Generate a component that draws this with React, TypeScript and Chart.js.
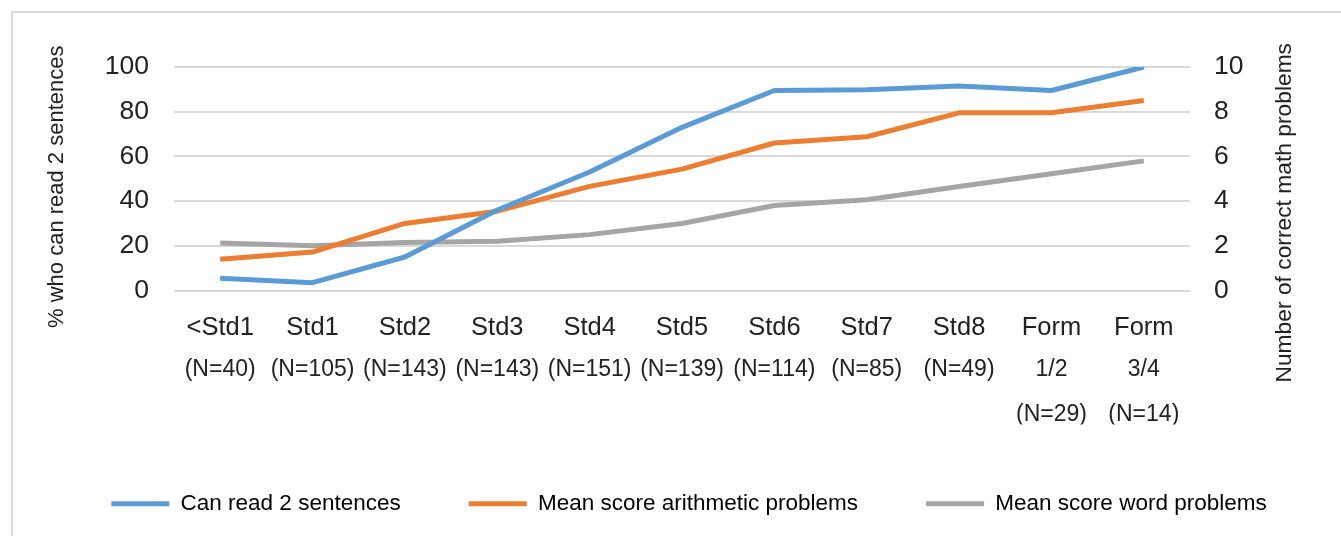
import React, { useEffect, useRef } from "react";
import { Chart, registerables } from "chart.js";

Chart.register(...registerables);

// Grade groups (first tick line) and sample sizes (lines below)
const categories = ["<Std1", "Std1", "Std2", "Std3", "Std4", "Std5", "Std6", "Std7", "Std8", "Form", "Form"];
const sampleLabels = [
  ["(N=40)"],
  ["(N=105)"],
  ["(N=143)"],
  ["(N=143)"],
  ["(N=151)"],
  ["(N=139)"],
  ["(N=114)"],
  ["(N=85)"],
  ["(N=49)"],
  ["1/2", "(N=29)"],
  ["3/4", "(N=14)"],
];

// % of pupils who can read 2 sentences (left axis)
const canRead = [5.5, 3.5, 15, 36, 53, 73, 89.5, 89.8, 91.5, 89.5, 100];
// Mean number of correct problems (right axis)
const arithmeticMean = [1.4, 1.72, 3.0, 3.55, 4.66, 5.43, 6.6, 6.88, 7.95, 7.95, 8.5];
const wordMean = [2.12, 2.0, 2.15, 2.2, 2.5, 3.0, 3.8, 4.06, 4.65, 5.22, 5.8];

const leftTitle = "% who can read 2 sentences";
const rightTitle = "Number of correct math problems";

const FONT = "'Liberation Sans', Arial, sans-serif";
const TEXT = "#222222";
const GRID = "#d9d9d9";

// Draws both axis titles rotated to read bottom-to-top
const axisTitlePlugin = {
  id: "axisTitles",
  afterDraw(chart: any) {
    const { ctx, chartArea, scales } = chart;
    const mid = (chartArea.top + chartArea.bottom) / 2;
    const draw = (text: string, x: number, y: number, size: number) => {
      ctx.save();
      ctx.translate(x, y);
      ctx.rotate(-Math.PI / 2);
      ctx.font = `${size}px ${FONT}`;
      ctx.fillStyle = TEXT;
      ctx.textAlign = "center";
      ctx.textBaseline = "middle";
      ctx.fillText(text, 0, 0);
      ctx.restore();
    };
    draw(leftTitle, scales.y.left + 20, mid + 8, 22);
    draw(rightTitle, scales.y1.right - 56, mid + 34, 22.8);
  },
};

export default function App() {
  const canvasRef = useRef<HTMLCanvasElement | null>(null);

  useEffect(() => {
    if (!canvasRef.current) return;
    const chart = new Chart(canvasRef.current, {
      type: "line",
      data: {
        labels: categories,
        datasets: [
          {
            label: "Can read 2 sentences",
            data: canRead,
            borderColor: "#5b9bd5",
            backgroundColor: "#5b9bd5",
            yAxisID: "y",
            xAxisID: "x",
          },
          {
            label: "Mean score arithmetic problems",
            data: arithmeticMean,
            borderColor: "#ed7d31",
            backgroundColor: "#ed7d31",
            yAxisID: "y1",
            xAxisID: "x",
          },
          {
            label: "Mean score word problems",
            data: wordMean,
            borderColor: "#a5a5a5",
            backgroundColor: "#a5a5a5",
            yAxisID: "y1",
            xAxisID: "x",
          },
        ],
      },
      options: {
        animation: false,
        responsive: false,
        devicePixelRatio: 1,
        layout: { padding: { top: 67, left: 37, right: 0, bottom: 11 } },
        elements: {
          line: { borderWidth: 5, tension: 0, borderJoinStyle: "round", borderCapStyle: "butt" },
          point: { radius: 0, hoverRadius: 0 },
        },
        plugins: {
          tooltip: { enabled: false },
          legend: {
            position: "bottom",
            labels: {
              boxWidth: 58,
              boxHeight: 5,
              padding: 68,
              color: TEXT,
              font: { family: FONT, size: 22.5 },
              generateLabels: (c: any) =>
                c.data.datasets.map((ds: any, i: number) => ({
                  text: ds.label,
                  fillStyle: ds.borderColor,
                  strokeStyle: ds.borderColor,
                  lineWidth: 0,
                  hidden: false,
                  datasetIndex: i,
                })),
            },
          },
        },
        scales: {
          x: {
            type: "category",
            position: "bottom",
            offset: true,
            grid: { display: false },
            border: { display: false },
            ticks: {
              color: TEXT,
              font: { family: FONT, size: 25.5, lineHeight: "30px" },
              padding: 14,
              maxRotation: 0,
              minRotation: 0,
              autoSkip: false,
            },
            afterFit: (s: any) => {
              s.height = 49;
            },
          },
          x2: {
            type: "category",
            position: "bottom",
            offset: true,
            labels: sampleLabels as any,
            grid: { display: false },
            border: { display: false },
            ticks: {
              color: TEXT,
              font: { family: FONT, size: 23, lineHeight: "45px" },
              padding: 0,
              maxRotation: 0,
              minRotation: 0,
              autoSkip: false,
            },
            afterFit: (s: any) => {
              s.height = 85;
            },
          },
          y: {
            type: "linear",
            position: "left",
            min: 0,
            max: 100,
            ticks: {
              stepSize: 20,
              color: TEXT,
              font: { family: FONT, size: 26.5 },
              padding: 25,
            },
            grid: { color: GRID, lineWidth: 2, drawTicks: false },
            border: { display: false },
            afterFit: (s: any) => {
              s.width = 137;
            },
          },
          y1: {
            type: "linear",
            position: "right",
            min: 0,
            max: 10,
            ticks: {
              stepSize: 2,
              color: TEXT,
              font: { family: FONT, size: 26.5 },
              padding: 24,
            },
            grid: { display: false, drawTicks: false },
            border: { display: false },
            afterFit: (s: any) => {
              s.width = 151;
            },
          },
        },
      },
      plugins: [axisTitlePlugin],
    });
    return () => chart.destroy();
  }, []);

  return (
    <div
      style={{
        position: "fixed",
        left: 0,
        top: 0,
        width: 1341,
        height: 536,
        background: "#ffffff",
        overflow: "hidden",
      }}
    >
      <div
        style={{
          position: "absolute",
          left: 11,
          top: 11,
          width: 1400,
          height: 600,
          border: "2px solid #d9d9d9",
          boxSizing: "border-box",
        }}
      />
      <canvas
        ref={canvasRef}
        width={1341}
        height={536}
        style={{ position: "absolute", left: 0, top: 0, width: 1341, height: 536 }}
      />
    </div>
  );
}
